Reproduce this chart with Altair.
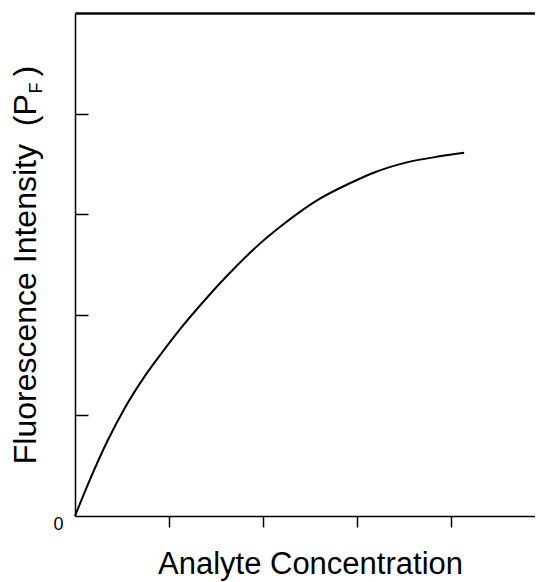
import altair as alt
import pandas as pd

# Curve (data units: x 0..5, y 0..5)
conc = [0, 0.14, 0.35, 0.53, 0.75, 0.93, 1.12, 1.37, 1.62, 1.97, 2.21, 2.57, 2.93, 3.17, 3.53, 3.88, 4.14]
intensity = [0, 0.32, 0.755, 1.074, 1.40, 1.63, 1.86, 2.135, 2.39, 2.71, 2.895, 3.135, 3.31, 3.41, 3.515, 3.575, 3.61]
x_ticks = [1, 2, 3, 4]
y_ticks = [1, 2, 3, 4]
y_labels = [0]
subscript = ["F"]

df = pd.DataFrame({"conc": conc, "intensity": intensity})
FONT = "Liberation Sans"
NB = "\u00a0"

xscale = alt.Scale(domain=[0, 5], nice=False, zero=True)
yscale = alt.Scale(domain=[0, 5], nice=False, zero=True)

line = alt.Chart(df).mark_line(color="black", strokeWidth=2, interpolate="monotone").encode(
    x=alt.X("conc:Q", scale=xscale, axis=alt.Axis(
        values=x_ticks, labels=False, tickSize=11, tickWidth=1.5, tickColor="black",
        domainColor="black", domainWidth=1.5, grid=False,
        title="Analyte Concentration", titleFont=FONT, titleFontSize=31,
        titleFontWeight="normal", titleColor="black", titlePadding=22)),
    y=alt.Y("intensity:Q", scale=yscale, axis=alt.Axis(
        values=y_labels, ticks=False, tickSize=0, labelFont=FONT, labelFontSize=18,
        labelColor="black", labelPadding=12, labelOffset=8,
        domainColor="black", domainWidth=1.5, grid=False,
        title="Fluorescence Intensity" + NB + NB + "(P" + NB + NB + ")",
        titleFont=FONT, titleFontSize=32,
        titleFontWeight="normal", titleColor="black", titlePadding=10)),
)

frame = alt.Chart(df).mark_line(strokeOpacity=0).encode(
    x=alt.X("conc:Q", scale=xscale, axis=alt.Axis(
        orient="top", values=x_ticks, ticks=False, labels=False, grid=False,
        domainColor="black", domainWidth=2.5, title=None)),
    y=alt.Y("intensity:Q", scale=yscale, axis=alt.Axis(
        orient="left", offset=-13, values=y_ticks, tickSize=13, tickWidth=1.5,
        tickColor="black", domain=False, labels=False, grid=False, title=None)),
)

sub = alt.Chart(pd.DataFrame({"t": subscript})).mark_text(
    angle=270, font=FONT, fontSize=18, color="black", baseline="alphabetic", align="center"
).encode(text="t:N", x=alt.value(-33), y=alt.value(75))

chart = alt.layer(line, frame, sub).resolve_axis(
    x="independent", y="independent"
).properties(
    width=470, height=503,
    autosize=alt.AutoSizeParams(type="none"),
    padding={"left": 67, "top": 5, "right": -10, "bottom": 66},
).configure_view(stroke=None)

chart.save("out.html", embed_options={"renderer": "svg", "actions": False})
